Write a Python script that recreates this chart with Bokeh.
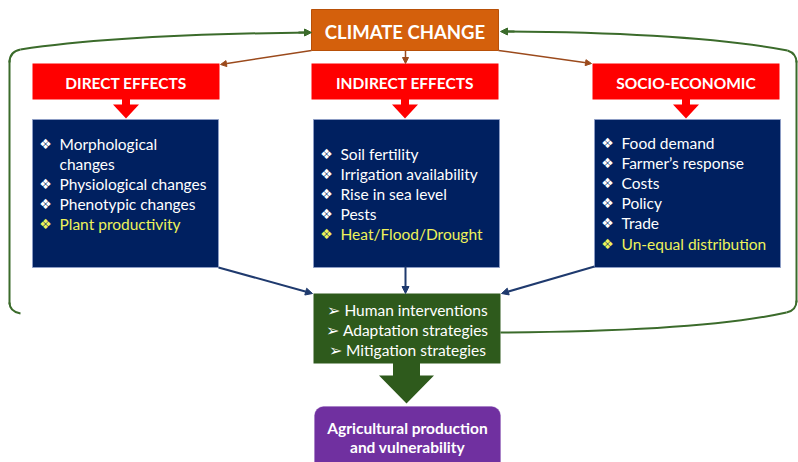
from bokeh.plotting import figure
from bokeh.models import Range1d, Arrow, NormalHead, BoxAnnotation
from bokeh.core.properties import value
from bokeh.embed import file_html
from bokeh.resources import INLINE

# ---------------- content ----------------
title = "CLIMATE CHANGE"
headers = ["DIRECT EFFECTS", "INDIRECT EFFECTS", "SOCIO-ECONOMIC"]
direct_items = ["Morphological\nchanges", "Physiological changes", "Phenotypic changes", "Plant productivity"]
indirect_items = ["Soil fertility", "Irrigation availability", "Rise in sea level", "Pests", "Heat/Flood/Drought"]
socio_items = ["Food demand", "Farmer\u2019s response", "Costs", "Policy", "Trade", "Un-equal distribution"]
human_items = ["Human interventions", "Adaptation strategies", "Mitigation strategies"]
outcome = ["Agricultural production", "and vulnerability"]

FONT = "Lato"
ORANGE = "#D4600C"
RED = "#FF0000"
NAVY = "#002060"
DKGREEN = "#2E5A1C"
PURPLE = "#7030A0"
LOOP = "#3B6B2B"
BROWN = "#9B4A1C"
ARROWNAVY = "#1F3A6E"
YELLOW = "#EEF25A"

p = figure(width=798, height=462, output_backend="svg", toolbar_location=None,
           x_range=Range1d(0, 798), y_range=Range1d(462, 0), min_border=0)
p.axis.visible = False
p.grid.visible = False
p.outline_line_color = None
p.background_fill_color = "white"

# ---------------- feedback loop (green) ----------------
qx0 = [20, 9, 503, 787, 786, 796]
qy0 = [49, 302, 31, 50, 312, 300]
qcx = [120, 9, 690, 796, 700, 796]
qcy = [34, 311, 32, 53, 331, 310]
qx1 = [309, 20, 787, 796, 500, 786]
qy1 = [32, 313, 50, 62, 332, 312]
p.quadratic(x0=qx0, y0=qy0, x1=qx1, y1=qy1, cx=qcx, cy=qcy, line_color=LOOP, line_width=2)
p.quadratic(x0=[9], y0=[62], x1=[20], y1=[49], cx=[9], cy=[51], line_color=LOOP, line_width=2)
p.segment(x0=[9, 796], y0=[60, 60], x1=[9, 796], y1=[304, 302], line_color=LOOP, line_width=2)
for xs, ys, xe, ye in [(298, 32, 311, 32), (514, 31, 500, 31)]:
    p.add_layout(Arrow(x_start=xs, y_start=ys, x_end=xe, y_end=ye, line_color=LOOP, line_width=2,
                       end=NormalHead(size=7, fill_color=LOOP, line_color=LOOP)))

# ---------------- climate change box ----------------
p.quad(left=[311], right=[498], top=[9], bottom=[50], fill_color=ORANGE, line_color="#B85008")
p.text(x=[404.5], y=[31], text=[title], text_font=value(FONT), text_font_style="bold",
       text_font_size="18.5px", text_color="white", text_align="center", text_baseline="middle")

# brown arrows
for xs, ys, xe, ye in [(311, 50, 220, 64), (405, 50, 405, 63), (498, 50, 591, 63)]:
    p.add_layout(Arrow(x_start=xs, y_start=ys, x_end=xe, y_end=ye, line_color=BROWN, line_width=1.5,
                       end=NormalHead(size=6, fill_color=BROWN, line_color=BROWN)))

# ---------------- three columns ----------------
hx0 = [32, 311, 592]
bx0 = [32, 313, 594]
text_top = [143, 153, 142]
columns = [direct_items, indirect_items, socio_items]
W = 187
for i, hdr in enumerate(headers):
    cx = hx0[i] + W / 2
    p.quad(left=[hx0[i]], right=[hx0[i] + W], top=[63], bottom=[99], fill_color=RED, line_color=None)
    p.text(x=[cx], y=[82], text=[hdr], text_font=value(FONT), text_font_style="bold",
           text_font_size="15.5px", text_color="white", text_align="center", text_baseline="middle")
    p.patch(x=[cx - 4, cx + 4, cx + 4, cx + 13, cx, cx - 13, cx - 4],
            y=[98, 98, 104, 104, 118, 104, 104], fill_color=RED, line_color=None)
    p.quad(left=[bx0[i]], right=[bx0[i] + 186], top=[119], bottom=[267],
           fill_color=NAVY, line_color="#8C9CC4", line_width=1)
    y = text_top[i]
    items = columns[i]
    for k, it in enumerate(items):
        col = YELLOW if k == len(items) - 1 else "white"
        lines = it.split("\n")
        p.text(x=[bx0[i] + 13], y=[y], text=["\u2756"], text_font=value("DejaVu Sans"),
               text_font_size="14px", text_color=col, text_align="center", text_baseline="middle")
        for ln in lines:
            p.text(x=[bx0[i] + 27], y=[y], text=[ln], text_font=value(FONT),
                   text_font_size="15.5px", text_color=col, text_align="left", text_baseline="middle")
            y += 20.2

# navy arrows into human box
for xs, ys, xe, ye in [(218, 267, 312, 293), (405, 266, 405, 293), (594, 266, 501, 293)]:
    p.add_layout(Arrow(x_start=xs, y_start=ys, x_end=xe, y_end=ye, line_color=ARROWNAVY, line_width=2,
                       end=NormalHead(size=7, fill_color=ARROWNAVY, line_color=ARROWNAVY)))

# ---------------- human interventions box ----------------
p.quad(left=[313], right=[500], top=[293], bottom=[363], fill_color=DKGREEN, line_color=None)
for k, it in enumerate(human_items):
    p.text(x=[409], y=[309 + 20 * k], text=["\u27A2  " + it], text_font=value(FONT),
           text_font_size="15.5px", text_color="white", text_align="center", text_baseline="middle")
ax = 406
p.patch(x=[ax - 13.5, ax + 13.5, ax + 13.5, ax + 27.5, ax, ax - 27.5, ax - 13.5],
        y=[362, 362, 375, 375, 403, 375, 375], fill_color=DKGREEN, line_color=None)

# ---------------- outcome box ----------------
p.add_layout(BoxAnnotation(left=314, right=500, top=406, bottom=472, fill_color=PURPLE, fill_alpha=1,
                           line_color="#8E5AB8", line_width=1, border_radius=9, level="underlay"))
for k, ln in enumerate(outcome):
    p.text(x=[407], y=[427 + 19 * k], text=[ln], text_font=value(FONT), text_font_style="bold",
           text_font_size="15.5px", text_color="white", text_align="center", text_baseline="middle")

open("out.html", "w").write(file_html(p, INLINE))
